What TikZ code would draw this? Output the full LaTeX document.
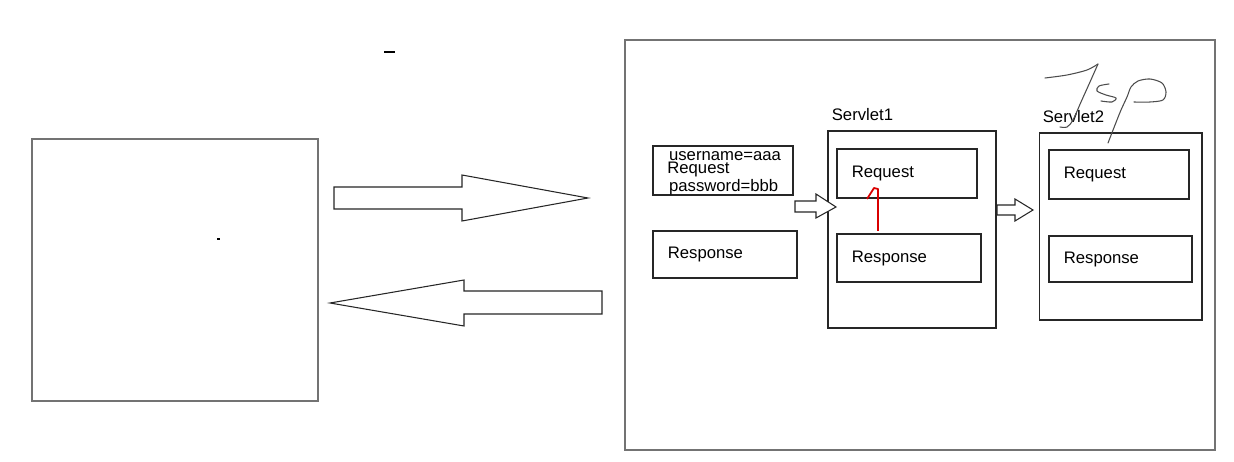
\documentclass[tikz,border=0pt]{standalone}
\usepackage{fontspec}
\setmainfont{Liberation Sans}
\usetikzlibrary{positioning}
\tikzset{
  box/.style 2 args={draw=black!85,line width=0.6pt,minimum width=#1,minimum height=#2,inner sep=0pt},
  frame/.style 2 args={box={#1}{#2},draw=black!55,line width=0.8pt},
  lbl/.style={font=\fontsize{9.5}{10}\selectfont,inner sep=0pt},
  blk/.style={draw=black!85,line width=0.6pt,fill=white},
  pen/.style={black!70,line width=0.6pt,line cap=round,line join=round}
}
\begin{document}
\begin{tikzpicture}
  [x=0.02cm,y=-0.02cm]
\useasboundingbox (0,0) rectangle (1234,462);
\node (client)[frame={5.72cm}{5.24cm}] at (175,270) {};
  \node (server)[frame={11.8cm}{8.2cm}] at (920,245) {};
  \node (params)[box={2.8cm}{0.98cm}] at (723,170.5) {};
  \node (resp0)[box={2.88cm}{0.94cm}] at (725,254.5) {};
  \node (servlet1)[box={3.36cm}{3.94cm}] at (912,229.5) {};
  \node (req1)[box={2.8cm}{0.98cm}] at (907,173.5) {};
  \node (resp1)[box={2.88cm}{0.96cm}] at (909,258) {};
  \node (servlet2)[box={3.26cm}{3.74cm}] at (1120.5,226.5) {};
  \node (req2)[box={2.8cm}{0.98cm}] at (1119,174.5) {};
  \node (resp2)[box={2.86cm}{0.92cm}] at (1120.5,259) {};
 \foreach \b/\t in {req1/Request,resp1/Response,resp0/Response,req2/Request,resp2/Response}
    \node (\b-t)[lbl,right=0.3cm of \b.west] {\t};
 \foreach \b/\t in {servlet1/Servlet1,servlet2/Servlet2}
    \node (\b-t)[lbl,above right=0.18cm and 0.08cm of \b.north west] {\t};
  \node (paramtxt)[lbl,font=\fontsize{9.5}{7.8}\selectfont,align=left,anchor=west] at (667,173)
    {\hspace{1pt}username=aaa\\Request\\\hspace{1pt}password=bbb};

  % block arrows
  \draw[blk] (334,187) -- (462,187) -- (462,175) -- (588,198) -- (462,221) -- (462,209) -- (334,209) -- cycle;
  \draw[blk] (602,291) -- (464,291) -- (464,280) -- (330,303) -- (464,326) -- (464,314) -- (602,314) -- cycle;
  \draw[blk] (795,201) -- (816,201) -- (816,194) -- (836,207) -- (816,218) -- (816,212) -- (795,212) -- cycle;
  \draw[blk] (997,205) -- (1015,205) -- (1015,199) -- (1033,210) -- (1015,221) -- (1015,215) -- (997,215) -- cycle;

  % hand marks
  \draw[red!85!black,line width=1pt,line join=round] (867,199) -- (874,188) -- (878,189) -- (878,231);
  \draw[pen] plot[smooth] coordinates {(1045,78) (1067,75) (1087,70) (1098,64)};
  \draw[pen] plot[smooth] coordinates {(1098,64) (1090,82) (1081,102) (1073,120) (1067,127) (1060,127)};
  \draw[pen] plot[smooth] coordinates {(1109,84) (1099,86) (1097,91) (1106,95) (1116,98) (1112,102) (1101,101)};
  \draw[pen] plot[smooth] coordinates {(1108,143) (1115,125) (1121,110) (1127,97) (1131,87) (1138,81) (1150,79) (1162,83) (1166,92) (1163,100) (1150,102) (1134,102)};
  \draw[line width=1pt] (384,52) -- (395,52);
  \fill (217,238) rectangle (220,240.5);

\end{tikzpicture}
\end{document}
